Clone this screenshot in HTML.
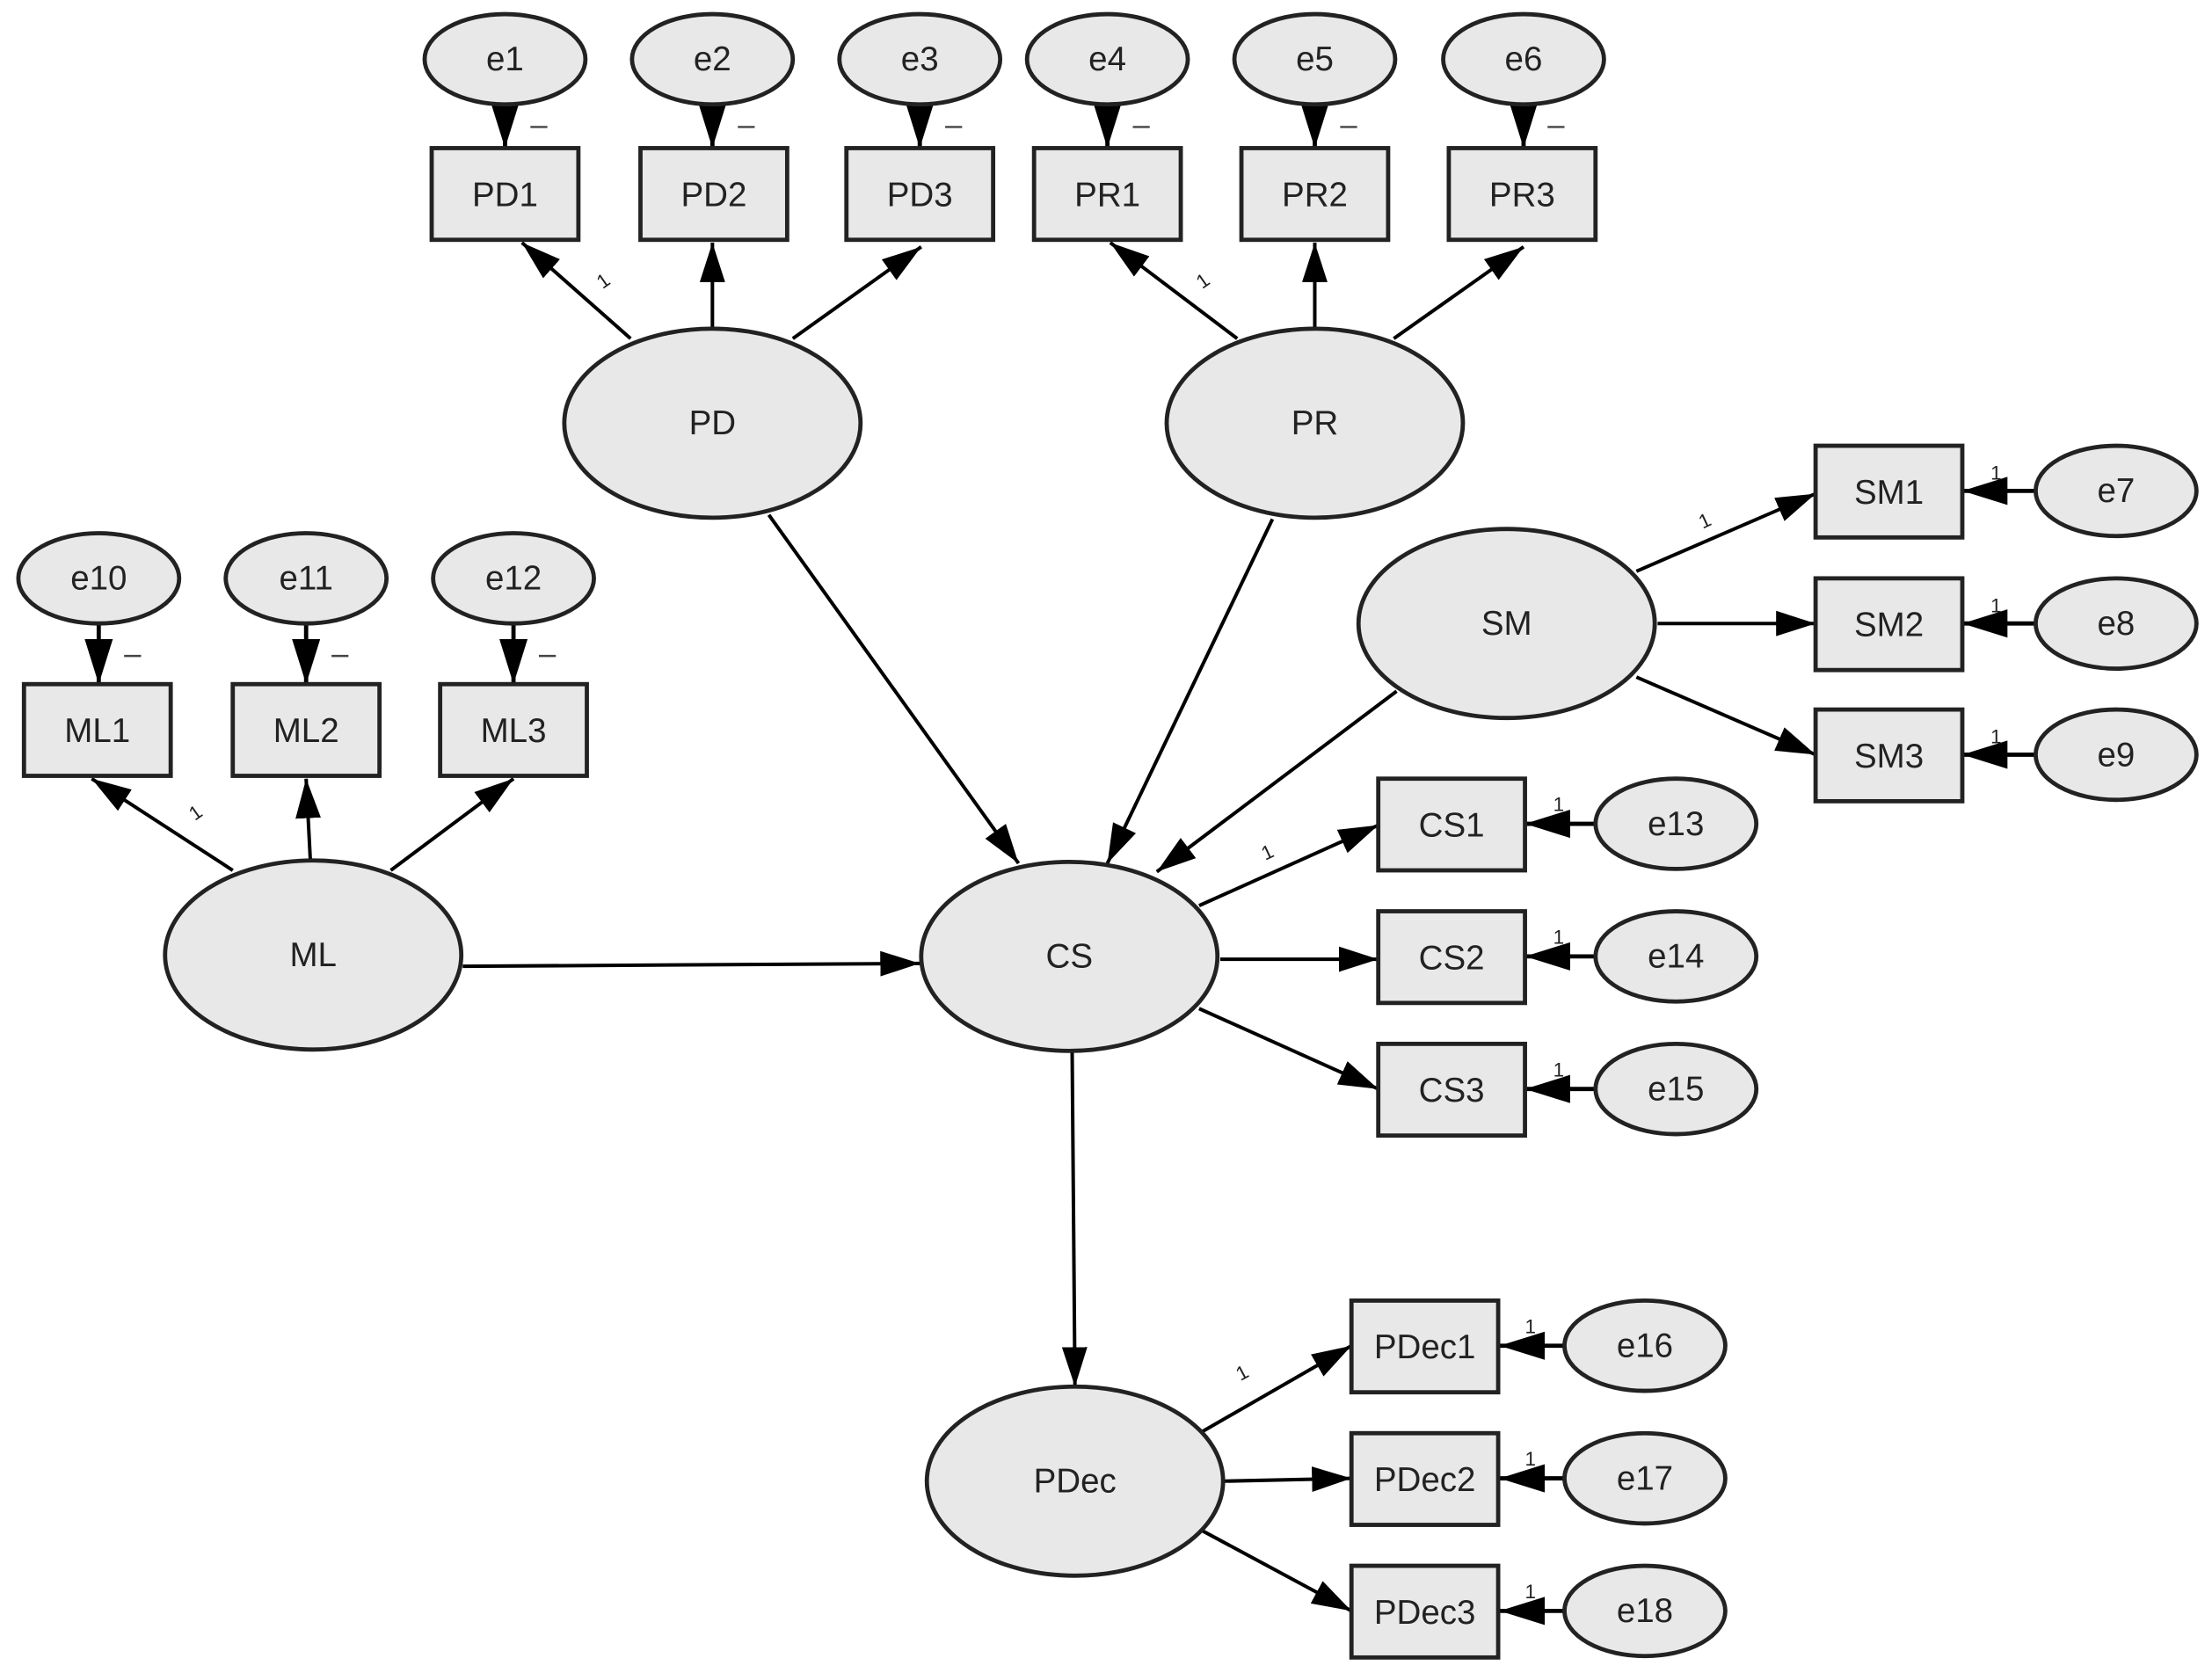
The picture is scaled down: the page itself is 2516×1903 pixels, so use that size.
<!DOCTYPE html>
<html><head><meta charset="utf-8"><style>
html,body{margin:0;padding:0;background:#fff;}
svg{display:block;}
text{font-family:"Liberation Sans",sans-serif;fill:#222;}
</style></head><body>
<svg width="2516" height="1903" viewBox="0 0 1568 1186" preserveAspectRatio="none" xmlns="http://www.w3.org/2000/svg">
<defs>
<marker id="a" markerUnits="userSpaceOnUse" markerWidth="30" markerHeight="20" refX="28" refY="10" orient="auto"><path d="M0,1 L28,10 L0,19 Z" fill="#000"/></marker>
<marker id="b" markerUnits="userSpaceOnUse" markerWidth="34" markerHeight="22" refX="32" refY="11" orient="auto"><path d="M0,1 L32,11 L0,21 Z" fill="#000"/></marker>
</defs>
<g stroke="#000" stroke-width="3" fill="none" marker-end="url(#b)">
<!-- top errors -->
<path d="M358 74 L358 105"/><path d="M505 74 L505 105"/><path d="M652 74 L652 105"/>
<path d="M785 74 L785 105"/><path d="M932 74 L932 105"/><path d="M1080 74 L1080 105"/>
<path d="M70 442 L70 485"/><path d="M217 442 L217 485"/><path d="M364 442 L364 485"/>
<!-- right errors -->
<path d="M1443 348 L1391 348"/><path d="M1443 442 L1391 442"/><path d="M1443 535 L1391 535"/>
<path d="M1131 584 L1081 584"/><path d="M1131 678 L1081 678"/><path d="M1131 772 L1081 772"/>
<path d="M1109 954 L1063 954"/><path d="M1109 1048 L1063 1048"/><path d="M1109 1142 L1063 1142"/>
</g>
<g stroke="#000" stroke-width="2.5" fill="none" marker-end="url(#a)">
<path d="M447 240 L370 172"/><path d="M505 233 L505 172"/><path d="M562 240 L653 175"/>
<path d="M877 240 L787 172"/><path d="M932 233 L932 172"/><path d="M988 240 L1080 175"/>
<path d="M165 617 L65 552"/><path d="M220 610 L217 552"/><path d="M277 617 L364 552"/>
<path d="M1160 405 L1287 350"/><path d="M1175 442 L1287 442"/><path d="M1160 480 L1287 535"/>
<path d="M850 642 L977 585"/><path d="M865 680 L977 680"/><path d="M850 715 L977 772"/>
<path d="M852 1015 L958 954"/><path d="M868 1050 L958 1048"/><path d="M852 1085 L958 1142"/>
<path d="M545 365 L722 612"/><path d="M902 368 L785 612"/><path d="M990 490 L820 618"/>
<path d="M328 685 L652 683"/><path d="M760 745 L762 983"/>
</g>
<g fill="#e8e8e8" stroke="#222" stroke-width="3">
<ellipse cx="358" cy="42" rx="57" ry="32"/><ellipse cx="505" cy="42" rx="57" ry="32"/><ellipse cx="652" cy="42" rx="57" ry="32"/>
<ellipse cx="785" cy="42" rx="57" ry="32"/><ellipse cx="932" cy="42" rx="57" ry="32"/><ellipse cx="1080" cy="42" rx="57" ry="32"/>
<ellipse cx="70" cy="410" rx="57" ry="32"/><ellipse cx="217" cy="410" rx="57" ry="32"/><ellipse cx="364" cy="410" rx="57" ry="32"/>
<ellipse cx="1500" cy="348" rx="57" ry="32"/><ellipse cx="1500" cy="442" rx="57" ry="32"/><ellipse cx="1500" cy="535" rx="57" ry="32"/>
<ellipse cx="1188" cy="584" rx="57" ry="32"/><ellipse cx="1188" cy="678" rx="57" ry="32"/><ellipse cx="1188" cy="772" rx="57" ry="32"/>
<ellipse cx="1166" cy="954" rx="57" ry="32"/><ellipse cx="1166" cy="1048" rx="57" ry="32"/><ellipse cx="1166" cy="1142" rx="57" ry="32"/>
<ellipse cx="505" cy="300" rx="105" ry="67"/><ellipse cx="932" cy="300" rx="105" ry="67"/>
<ellipse cx="1068" cy="442" rx="105" ry="67"/><ellipse cx="222" cy="677" rx="105" ry="67"/>
<ellipse cx="758" cy="678" rx="105" ry="67"/><ellipse cx="762" cy="1050" rx="105" ry="67"/>
<rect x="306" y="105" width="104" height="65"/><rect x="454" y="105" width="104" height="65"/><rect x="600" y="105" width="104" height="65"/>
<rect x="733" y="105" width="104" height="65"/><rect x="880" y="105" width="104" height="65"/><rect x="1027" y="105" width="104" height="65"/>
<rect x="17" y="485" width="104" height="65"/><rect x="165" y="485" width="104" height="65"/><rect x="312" y="485" width="104" height="65"/>
<rect x="1287" y="316" width="104" height="65"/><rect x="1287" y="410" width="104" height="65"/><rect x="1287" y="503" width="104" height="65"/>
<rect x="977" y="552" width="104" height="65"/><rect x="977" y="646" width="104" height="65"/><rect x="977" y="740" width="104" height="65"/>
<rect x="958" y="922" width="104" height="65"/><rect x="958" y="1016" width="104" height="65"/><rect x="958" y="1110" width="104" height="65"/>
</g>
<g font-size="24" text-anchor="middle">
<text x="358" y="50">e1</text><text x="505" y="50">e2</text><text x="652" y="50">e3</text>
<text x="785" y="50">e4</text><text x="932" y="50">e5</text><text x="1080" y="50">e6</text>
<text x="70" y="418">e10</text><text x="217" y="418">e11</text><text x="364" y="418">e12</text>
<text x="1500" y="356">e7</text><text x="1500" y="450">e8</text><text x="1500" y="543">e9</text>
<text x="1188" y="592">e13</text><text x="1188" y="686">e14</text><text x="1188" y="780">e15</text>
<text x="1166" y="962">e16</text><text x="1166" y="1056">e17</text><text x="1166" y="1150">e18</text>
<text x="358" y="146">PD1</text><text x="506" y="146">PD2</text><text x="652" y="146">PD3</text>
<text x="785" y="146">PR1</text><text x="932" y="146">PR2</text><text x="1079" y="146">PR3</text>
<text x="69" y="526">ML1</text><text x="217" y="526">ML2</text><text x="364" y="526">ML3</text>
<text x="1339" y="357">SM1</text><text x="1339" y="451">SM2</text><text x="1339" y="544">SM3</text>
<text x="1029" y="593">CS1</text><text x="1029" y="687">CS2</text><text x="1029" y="781">CS3</text>
<text x="1010" y="963">PDec1</text><text x="1010" y="1057">PDec2</text><text x="1010" y="1151">PDec3</text>
<text x="505" y="308">PD</text><text x="932" y="308">PR</text><text x="1068" y="450">SM</text>
<text x="222" y="685">ML</text><text x="758" y="686">CS</text><text x="762" y="1058">PDec</text>
</g>
<g font-size="14" fill="#444">
<text x="423" y="204" transform="rotate(-35 427 198)">1</text>
<text x="848" y="204" transform="rotate(-35 852 198)">1</text>
<text x="134" y="581" transform="rotate(-35 138 575)">1</text>
<text x="1204" y="374" transform="rotate(-25 1208 368)">1</text>
<text x="894" y="609" transform="rotate(-25 898 603)">1</text>
<text x="876" y="978" transform="rotate(-28 880 972)">1</text>
<text x="1411" y="340">1</text><text x="1411" y="434">1</text><text x="1411" y="527">1</text>
<text x="1101" y="575">1</text><text x="1101" y="669">1</text><text x="1101" y="763">1</text>
<text x="1081" y="945">1</text><text x="1081" y="1039">1</text><text x="1081" y="1133">1</text>
</g>
<g stroke="#444" stroke-width="1.5">
<path d="M376 90 L388 90"/><path d="M523 90 L535 90"/><path d="M670 90 L682 90"/>
<path d="M803 90 L815 90"/><path d="M950 90 L962 90"/><path d="M1097 90 L1109 90"/>
<path d="M88 465 L100 465"/><path d="M235 465 L247 465"/><path d="M382 465 L394 465"/>
</g>
</svg>
</body></html>
